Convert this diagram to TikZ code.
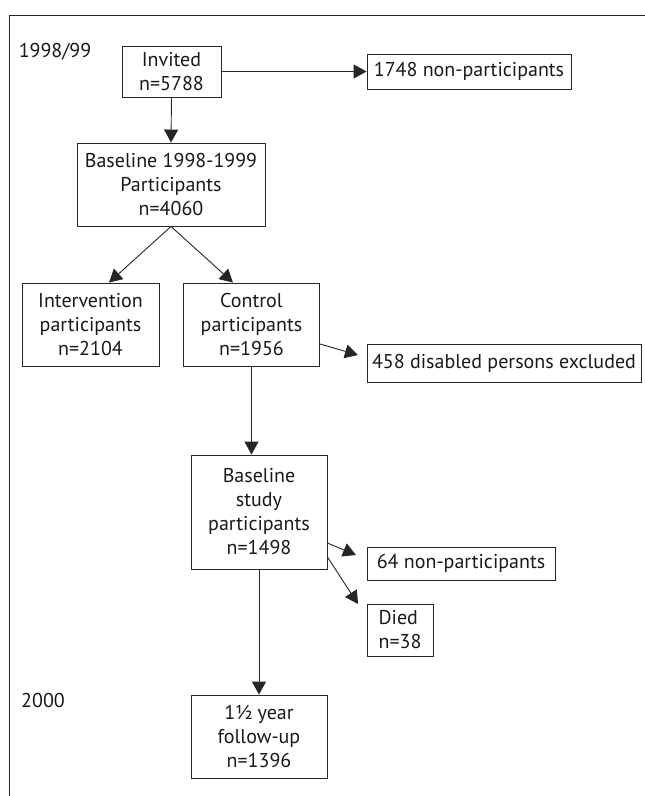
\documentclass[tikz,border=0pt]{standalone}
\usepackage{fontspec}
\setmainfont{PT Sans}
\usetikzlibrary{arrows.meta}
\begin{document}
\begin{tikzpicture}[x=1pt,y=-1pt,
  ink/.style={draw=black!85, line width=0.9pt},
  box/.style={ink, inner sep=0pt, align=center, text=black!90,
    font=\fontsize{20}{24}\selectfont},
  flow/.style={ink, -{Triangle[length=13pt,width=14pt]}},
  yearlabel/.style={inner sep=0pt, text=black!90, font=\fontsize{20}{24}\selectfont}]
\useasboundingbox (0,0) rectangle (645,796);

% open frame: top and left rule
\draw[ink] (645,15) -- (9,15) -- (9,796);

% period labels
\node[yearlabel] (y1) at (55,52) {1998/99};
\node[yearlabel] (y2) at (43,700) {2000};

% boxes
\node[box, minimum width=99pt, minimum height=51pt] (inv) at (171.5,71.5) {Invited\\n=5788};
\node[box, minimum width=204pt, minimum height=35pt] (np1) at (469,71.5) {1748 non-participants};
\node[box, minimum width=188pt, minimum height=83pt] (base) at (171,184.5) {Baseline 1998-1999\\Participants\\n=4060};
\node[box, minimum width=137pt, minimum height=83pt] (intv) at (90.5,324.5) {Intervention\\participants\\n=2104};
\node[box, minimum width=136pt, minimum height=83pt] (ctrl) at (251.5,324.5) {Control\\participants\\n=1956};
\node[box, minimum width=274pt, minimum height=38pt] (dis) at (504,363) {458 disabled persons excluded};
\node[box, minimum width=136pt, minimum height=114pt] (bst) at (259,512) {Baseline\\study\\participants\\n=1498};
\node[box, minimum width=188pt, minimum height=33pt] (np2) at (461,563.5) {64 non-participants};
\node[box, minimum width=66pt, minimum height=52pt, align=left] (died) at (400,630) {Died\\n=38};
\node[box, minimum width=136pt, minimum height=83pt] (fu) at (259,736.5) {1½ year\\follow-up\\n=1396};

% free ends of the side arrows
\coordinate (disTip) at (358,355);
\coordinate (np2Tip) at (356,555);
\coordinate (diedTip) at (358,604);

% connectors
\draw[flow] (inv.east) -- (np1.west);
\draw[flow] (inv.south) -- (base.north);
\draw[flow] (base.south) -- (intv.north -| 109,0);
\draw[flow] (base.south) -- (ctrl.north -| 233,0);
\draw[flow] (ctrl.east |- 0,344) -- (disTip);
\draw[flow] (ctrl.south) -- (ctrl.south |- bst.north);
\draw[flow] (bst.east |- 0,543) -- (np2Tip);
\draw[flow] (bst.east |- 0,557) -- (diedTip);
\draw[flow] (bst.south) -- (fu.north);
\end{tikzpicture}
\end{document}
